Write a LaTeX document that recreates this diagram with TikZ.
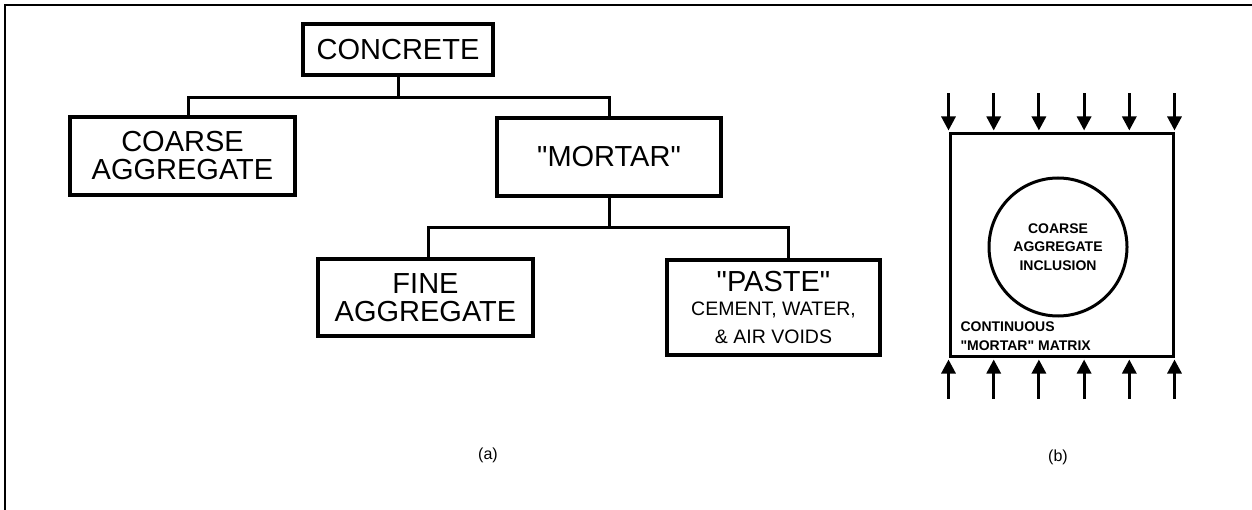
\documentclass[tikz,border=0pt]{standalone}
\usepackage{fontspec}
\setmainfont{Liberation Sans}[Ligatures=TeXOff]
\usetikzlibrary{arrows.meta,calc}
\begin{document}
\begin{tikzpicture}[x=1pt,y=-1pt,
  box/.style={draw,line width=4.5pt,inner sep=0pt,align=center,font=\fontsize{29}{28}\selectfont},
  conn/.style={line width=3pt},
  load/.style={line width=3pt,-{Triangle[length=14pt,width=14pt]}},
  small/.style={font=\fontsize{14}{18.5}\selectfont\bfseries},
  caption/.style={font=\fontsize{16}{18}\selectfont},
]
\useasboundingbox (0,0) rectangle (1252,510);
\draw[line width=2.5pt] (5,510) -- (5,5) -- (1252,5);
% panel (a)
\node[box,minimum width=190,minimum height=51] (concrete) at (398,49.5) {CONCRETE};
\node[box,minimum width=225,minimum height=78] (coarse) at (182.5,156) {COARSE\\AGGREGATE};
\node[box,minimum width=224,minimum height=78] (mortar) at (609,157) {"MORTAR"};
\node[box,minimum width=215,minimum height=77] (fine) at (425.5,297.5) {FINE\\AGGREGATE};
\node[box,minimum width=213,minimum height=95] (paste) at (773.5,307.5)
  {"PASTE"\\[-4pt]\fontsize{19.5}{23}\selectfont CEMENT, WATER,\\\fontsize{19.5}{23}\selectfont \& AIR VOIDS};
\coordinate (bus1) at (0,98);
\coordinate (bus2) at (0,228);
\draw[conn] (concrete.south) -- (concrete.south |- bus1);
\draw[conn] ([xshift=6pt]coarse.north) |- (mortar.north |- bus1) -- (mortar.north);
\draw[conn] (mortar.south) -- (mortar.south |- bus2);
\draw[conn] ([xshift=3pt]fine.north) |- ([xshift=15pt]paste.north |- bus2) -- ([xshift=15pt]paste.north);
\node[caption] (la) at (488,455) {(a)};
% panel (b)
\node[draw,line width=3pt,minimum width=223,minimum height=222,inner sep=0pt] (sq) at (1061.5,245) {};
\node[draw,circle,line width=3pt,minimum size=138,inner sep=0pt,align=center,small] (incl) at (1058,247) {COARSE\\AGGREGATE\\INCLUSION};
\node[small,anchor=base west,align=left] (matlab) at (957,350) {CONTINUOUS\\"MORTAR" MATRIX};
\foreach \f in {0,0.2,0.4,0.6,0.8,1}{
  \draw[load] ($(sq.north west)!\f!(sq.north east)$) ++(0,-39) -- ++(0,37);
  \draw[load] ($(sq.south west)!\f!(sq.south east)$) ++(0,41) -- ++(0,-39);
}
\node[caption] (lb) at (1058,457) {(b)};
\end{tikzpicture}
\end{document}
